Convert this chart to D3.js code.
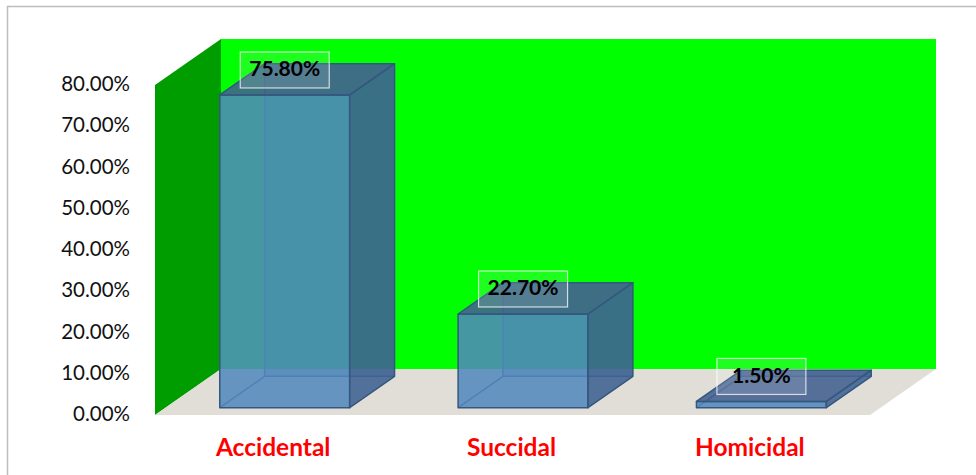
<!DOCTYPE html>
<html>
<head>
<meta charset="utf-8">
<script src="https://cdn.jsdelivr.net/npm/d3@7"></script>
<style>
  html, body { margin: 0; padding: 0; background: #fff; }
  svg { display: block; }
</style>
</head>
<body>
<svg id="chart" width="976" height="475"></svg>
<script>
const categories = ["Accidental", "Succidal", "Homicidal"];
const values = [75.8, 22.7, 1.5];
const valueLabels = ["75.80%", "22.70%", "1.50%"];
const yTicks = [0, 10, 20, 30, 40, 50, 60, 70, 80];

const svg = d3.select("#chart");
const W = 976, H = 475;

// frame
svg.append("path").attr("d", `M7.5,${H} L7.5,6.5 L${W},6.5`)
  .attr("fill", "none").attr("stroke", "#bdbdbd").attr("stroke-width", 1.5);

const x0 = 155, x1 = 870, yBase = 415, yTop = 85;
const DX = 66, DY = -46;
const x = d3.scaleBand().domain(categories).range([x0, x1]).paddingInner(0).paddingOuter(0);
const y = d3.scaleLinear().domain([0, 80]).range([yBase, yTop]);
const P = (px, py, d) => [px + d * DX, py + d * DY];
const poly = pts => "M" + pts.map(p => p.join(",")).join("L") + "Z";

// walls
svg.append("path").attr("d", poly([P(x0, y(80), 0), P(x0, y(80), 1), P(x0, y(0), 1), P(x0, y(0), 0)]))
  .attr("fill", "#009d00");
svg.append("path").attr("d", poly([P(x0, y(80), 1), P(x1, y(80), 1), P(x1, y(0), 1), P(x0, y(0), 1)]))
  .attr("fill", "#00ff00");
svg.append("path").attr("d", poly([P(x0, y(0), 0), P(x0, y(0), 1), P(x1, y(0), 1), P(x1, y(0), 0)]))
  .attr("fill", "#e1ded8");

// y tick labels
svg.append("g").selectAll("text").data(yTicks).join("text")
  .attr("x", 130).attr("y", d => y(d) + 1)
  .attr("text-anchor", "end").attr("dominant-baseline", "middle")
  .attr("font-family", "Lato, 'Open Sans', sans-serif").attr("font-size", 20.5)
  .attr("fill", "#111")
  .text(d => d3.format(".2f")(d) + "%");

// bars
const dFront = 0.16, dBack = 0.84;
const bw = x.bandwidth() * 0.545;
const edge = "#34577f";
const g = svg.append("g");
categories.forEach((c, i) => {
  const v = values[i];
  const cx = x(c) + x.bandwidth() / 2;
  const L = cx - bw / 2, R = cx + bw / 2;
  const fTL = P(L, y(v), dFront), fTR = P(R, y(v), dFront), fBL = P(L, y(0), dFront), fBR = P(R, y(0), dFront);
  const bTL = P(L, y(v), dBack), bTR = P(R, y(v), dBack), bBL = P(L, y(0), dBack), bBR = P(R, y(0), dBack);
  // hidden back edges
  const hid = g.append("g").attr("stroke", "#3d5f8c").attr("stroke-width", 1.5).attr("fill", "none");
  hid.append("path").attr("d", `M${bTL}L${bBL}L${bBR}`);
  hid.append("path").attr("d", `M${fBL}L${bBL}`);
  g.append("path").attr("d", poly([bTL, bTR, bBR, bBL])).attr("fill", "rgb(70,120,175)").attr("fill-opacity", 0.35);
  // front face
  g.append("path").attr("d", poly([fTL, fTR, fBR, fBL]))
    .attr("fill", "rgb(80,135,188)").attr("fill-opacity", 0.86)
    .attr("stroke", edge).attr("stroke-width", 1.5).attr("stroke-linejoin", "round");
  // right side
  g.append("path").attr("d", poly([fTR, bTR, bBR, fBR]))
    .attr("fill", "rgb(62,98,145)").attr("fill-opacity", 0.88)
    .attr("stroke", edge).attr("stroke-width", 1.5).attr("stroke-linejoin", "round");
  // top
  g.append("path").attr("d", poly([fTL, bTL, bTR, fTR]))
    .attr("fill", "rgb(66,96,142)").attr("fill-opacity", 0.88)
    .attr("stroke", edge).attr("stroke-width", 1.5).attr("stroke-linejoin", "round");

  // value label
  const ly = fTL[1] - 25;
  const lx = (fTL[0] + fTR[0]) / 2;
  svg.append("rect")
    .attr("x", lx - 44.5).attr("y", ly - 18).attr("width", 89).attr("height", 36)
    .attr("fill", "rgba(255,255,255,0.12)").attr("stroke", "rgba(255,255,255,0.75)").attr("stroke-width", 1.2);
  svg.append("text").attr("x", lx).attr("y", ly + 1)
    .attr("text-anchor", "middle").attr("dominant-baseline", "middle")
    .attr("font-family", "Lato, 'Open Sans', sans-serif").attr("font-weight", "bold")
    .attr("font-size", 21).attr("fill", "#000").text(valueLabels[i]);
});

// category labels
svg.append("g").selectAll("text").data(categories).join("text")
  .attr("x", d => x(d) + x.bandwidth() / 2 - 1).attr("y", 456)
  .attr("text-anchor", "middle")
  .attr("font-family", "Lato, 'Open Sans', sans-serif").attr("font-weight", "bold")
  .attr("font-size", 24.5).attr("fill", "#ff0000")
  .text(d => d);
</script>
</body>
</html>
